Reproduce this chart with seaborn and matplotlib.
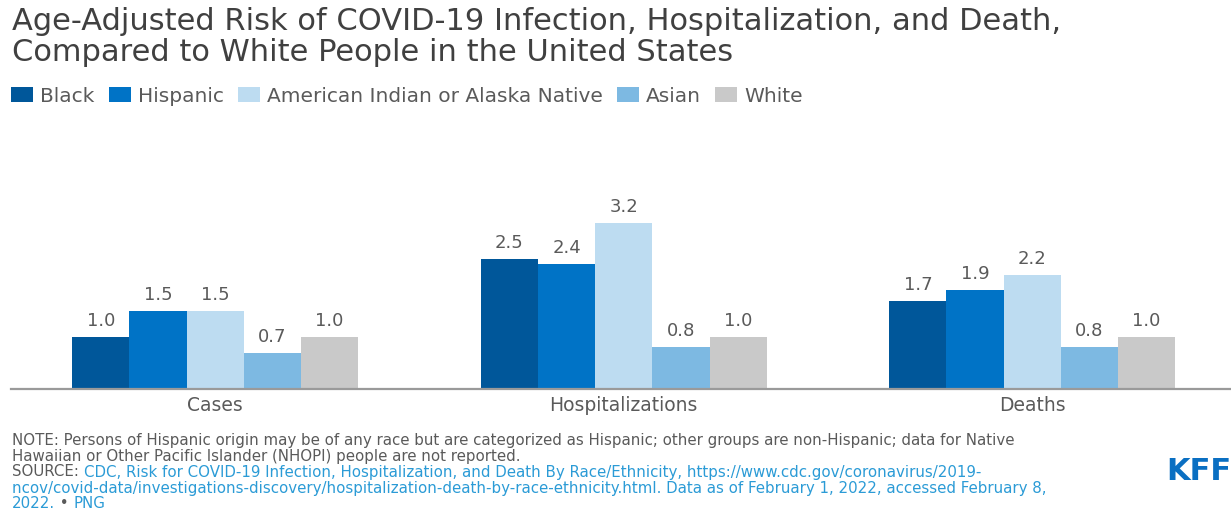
import matplotlib
matplotlib.use("Agg")
import matplotlib.pyplot as plt
import seaborn as sns
import pandas as pd

categories = ["Cases", "Hospitalizations", "Deaths"]
groups = ["Black", "Hispanic", "American Indian or Alaska Native", "Asian", "White"]
black = [1.0, 2.5, 1.7]
hispanic = [1.5, 2.4, 1.9]
aian = [1.5, 3.2, 2.2]
asian = [0.7, 0.8, 0.8]
white = [1.0, 1.0, 1.0]
colors = ["#00579a", "#0073c6", "#bddcf1", "#7db9e2", "#c9c9c9"]

title = ("Age-Adjusted Risk of COVID-19 Infection, Hospitalization, and Death,\n"
         "Compared to White People in the United States")
note_lines = [
    "NOTE: Persons of Hispanic origin may be of any race but are categorized as Hispanic; other groups are non-Hispanic; data for Native",
    "Hawaiian or Other Pacific Islander (NHOPI) people are not reported.",
]
source_l1 = "CDC, Risk for COVID-19 Infection, Hospitalization, and Death By Race/Ethnicity, https://www.cdc.gov/coronavirus/2019-"
source_l2 = "ncov/covid-data/investigations-discovery/hospitalization-death-by-race-ethnicity.html. Data as of February 1, 2022, accessed February 8,"
source_l3 = "2022."

series = [black, hispanic, aian, asian, white]
rows = []
for g, vals in zip(groups, series):
    for c, v in zip(categories, vals):
        rows.append({"category": c, "group": g, "value": v})
df = pd.DataFrame(rows)

sns.set_theme(style="white")
plt.rcParams["font.family"] = ["DejaVu Sans"]
GRAY = "#5a5a5a"
BLUE_LINK = "#2b9bd6"

W, H = 1231, 514
fig = plt.figure(figsize=(W / 100, H / 100), dpi=100)
ax = fig.add_axes([11 / W, 1 - 389 / H, 1225.5 / W, 229 / H])

sns.barplot(data=df, x="category", y="value", hue="group", order=categories,
            hue_order=groups, palette=colors, width=0.7, ax=ax,
            saturation=1, linewidth=0, legend=True, errorbar=None)

for cont in ax.containers:
    ax.bar_label(cont, fmt="%.1f", padding=5, fontsize=13, color=GRAY)

ax.set_ylim(0, 229 / 52)
ax.set_xlim(-0.5, 2.5)
ax.set_xlabel("")
ax.set_ylabel("")
ax.set_yticks([])
ax.tick_params(axis="x", length=0, pad=5, labelsize=13.5, labelcolor=GRAY)
for s in ["top", "left", "right"]:
    ax.spines[s].set_visible(False)
ax.spines["bottom"].set_color("#9a9a9a")
ax.spines["bottom"].set_linewidth(1.6)

handles, labels = ax.get_legend_handles_labels()
ax.legend_.remove()
fig.legend(handles, labels, loc="center left",
           bbox_to_anchor=(11 / W, 1 - 96 / H), ncol=5, frameon=False,
           fontsize=14.5, handlelength=1.1, handleheight=0.8,
           handletextpad=0.35, columnspacing=0.7, labelcolor=GRAY,
           borderaxespad=0, borderpad=0)

fig.text(12 / W, 1 - 7 / H, title, ha="left", va="top", fontsize=22,
         color="#404040", linespacing=1.08)

fs_note = 10.8
for i, line in enumerate(note_lines):
    fig.text(12 / W, 1 - (440 + 16 * i) / H, line, ha="left", va="center",
             fontsize=fs_note, color=GRAY)

fig.canvas.draw()
renderer = fig.canvas.get_renderer()

def place_run(parts, y_px):
    x = 12
    for txt, col in parts:
        t = fig.text(x / W, 1 - y_px / H, txt, ha="left", va="center",
                     fontsize=fs_note, color=col)
        bb = t.get_window_extent(renderer=renderer)
        x += bb.width

place_run([("SOURCE: ", GRAY), (source_l1, BLUE_LINK)], 472)
place_run([(source_l2, BLUE_LINK)], 488)
place_run([(source_l3, BLUE_LINK), (" \u2022 ", GRAY), ("PNG", BLUE_LINK)], 504)

fig.text(1231 / W, 1 - 471 / H, "KFF", ha="right", va="center", fontsize=22,
         fontweight="bold", color="#0a6fc2")

fig.savefig("out.png", dpi=100)
